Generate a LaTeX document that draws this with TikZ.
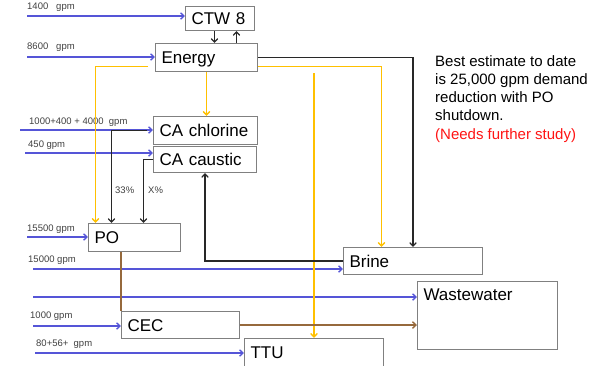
\documentclass[tikz,border=0pt]{standalone}
\usepackage{fontspec}
\setmainfont{Liberation Sans}
\usetikzlibrary{arrows.meta,positioning,calc}
\definecolor{flowblue}{RGB}{85,85,215}
\definecolor{heat}{RGB}{255,192,0}
\definecolor{waste}{RGB}{150,105,60}
\definecolor{edge}{RGB}{128,128,128}
\definecolor{ink}{RGB}{40,40,40}
\definecolor{alert}{RGB}{255,20,20}

\tikzset{
  unit/.style={draw=edge, line width=1pt, anchor=north west, inner xsep=6pt, inner ysep=0pt,
    align=left, text height=12pt, text depth=0pt, font=\fontsize{17}{17}\selectfont},
  tip/.style={-{Straight Barb[length=3.5pt,width=6.5pt]}},
  supply/.style={flowblue, line width=1.3pt, tip},
  feed/.style={heat, line width=1.4pt, tip},
  link/.style={ink, line width=1.2pt, tip},
  drain/.style={waste, line width=1.4pt},
  gpm/.style={anchor=base west, inner sep=0pt, text=black!75, font=\fontsize{9.5}{10}\selectfont},
}

\begin{document}
\begin{tikzpicture}[x=1pt, y=-1pt]
  \useasboundingbox (0,0) rectangle (601,365);
  % process units
  \node[unit, text width=57pt, minimum height=24pt] (ctw) at (185,6) {CTW 8};
  \node[unit, text width=90pt, minimum height=28pt] (energy) at (155,43) {Energy};
  \node[unit, text width=92pt, minimum height=28pt] (chlorine) at (153,116) {CA chlorine};
  \node[unit, text width=91pt, minimum height=26pt] (caustic) at (153,146) {CA caustic};
  \node[unit, text width=80pt, minimum height=28pt] (po) at (88,223) {PO};
  \node[unit, text width=127pt, minimum height=27pt] (brine) at (343,247) {Brine};
  \node[unit, text width=128pt, text height=19pt, text depth=49pt] (ww) at (417,281) {Wastewater};
  \node[unit, text width=106pt, minimum height=27pt] (cec) at (121,311) {CEC};
  \node[unit, text width=127pt, minimum height=28pt] (ttu) at (244,338) {TTU};

  % incoming water
  \foreach \tgt/\x/\y in {ctw/27/16, energy/27/57, chlorine/20/130, caustic/25/153, po/27/237,
      brine/33/269, ww/33/297, cec/33/326, ttu/35/353} {
    \coordinate (src-\tgt) at (\x,\y);
    \draw[supply] (src-\tgt) -- (src-\tgt -| \tgt.west);
  }
  \foreach \x/\y/\txt [count=\i] in {27/9/1400\ \ \ gpm, 27/49/8600\ \ \ gpm,
      29/124/1000+400 + 4000\ \ gpm, 28/147/450 gpm, 27/231/15500 gpm,
      28/262/15000 gpm, 30/318/1000 gpm, 36/346/80+56+\ \ gpm}
    \node[gpm] (rate-\i) at (\x,\y) {\txt};

  % CTW 8 <-> Energy
  \draw[link] ([xshift=-5.5pt]ctw.south) -- ([xshift=-5.5pt]ctw.south |- energy.north);
  \draw[link] ([xshift=16.5pt]ctw.south |- energy.north) -- ([xshift=16.5pt]ctw.south);

  % steam / energy lines
  \draw[link] (energy.east) -| (brine.north);
  \draw[feed] ([yshift=-9pt]energy.east) -| ([xshift=-31.5pt]brine.north);
  \draw[feed] (ttu.north |- 0,73) -- (ttu.north);
  \draw[feed] ([xshift=-7pt,yshift=-9pt]energy.west) -| ([xshift=-39pt]po.north);
  \draw[feed] (energy.south) -- (energy.south |- chlorine.north);

  % chlor-alkali to PO
  \draw[link] ([xshift=-6pt]chlorine.west) -| ([xshift=-23pt]po.north);
  \draw[link] (caustic.west) -| ([xshift=9pt]po.north);
  \node[gpm] (share-cl) at (115,193) {33\%};
  \node[gpm] (share-na) at (148,193) {X\%};
  \draw[link] (brine.west) -| (caustic.south);

  % waste streams
  \draw[drain] (cec.north west |- po.south) -- (cec.north west);
  \draw[drain, tip] (cec.east) -- (cec.east -| ww.west);

  % note
  \node[anchor=north west, inner sep=0pt, align=left, font=\fontsize{15}{18.3}\selectfont] (note) at (435,55)
    {Best estimate to date\\is 25,000 gpm demand\\reduction with PO\\shutdown.\\\textcolor{alert}{(Needs further study)}};
\end{tikzpicture}
\end{document}
